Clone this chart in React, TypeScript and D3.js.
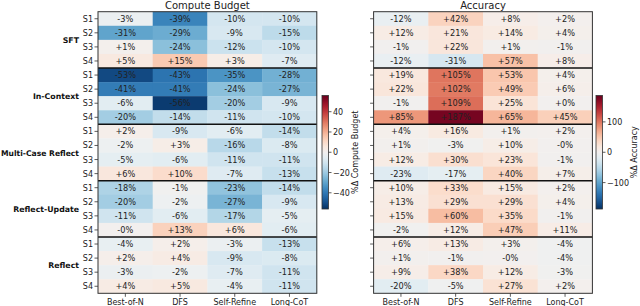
import React from "react";
import * as d3 from "d3";

const groups = ["SFT", "In-Context", "Multi-Case Reflect", "Reflect-Update", "Reflect"];
const settings = ["S1", "S2", "S3", "S4"];
const methods = ["Best-of-N", "DFS", "Self-Refine", "Long-CoT"];

// %Δ compute budget, rows = group x setting, cols = methods
const computeSFT = [[-3, -39, -10, -10], [-31, -29, -9, -15], [1, -24, -12, -10], [5, 15, 3, -7]];
const computeInContext = [[-53, -43, -35, -28], [-41, -41, -24, -27], [-6, -56, -20, -9], [-20, -14, -11, -10]];
const computeMultiCase = [[2, -9, -6, -14], [-2, 3, -16, -8], [-5, -6, -11, -11], [6, 10, -7, -13]];
const computeReflectUpdate = [[-18, -1, -23, -14], [-20, -2, -27, -9], [-11, -6, -17, -5], [-0, 13, 6, -6]];
const computeReflect = [[-4, 2, -3, -13], [2, 4, -9, -8], [-3, -2, -7, -11], [4, 5, -4, -11]];

// %Δ accuracy
const accSFT = [[-12, 42, 8, 2], [12, 21, 14, 4], [-1, 22, 1, -1], [-12, -31, 57, 8]];
const accInContext = [[19, 105, 53, 4], [22, 102, 49, 6], [-1, 109, 25, 0], [85, 187, 65, 45]];
const accMultiCase = [[4, 16, 1, 2], [1, -3, 10, -0], [12, 30, 23, -1], [-23, -17, 40, 7]];
const accReflectUpdate = [[10, 33, 15, 2], [13, 29, 29, 4], [15, 60, 35, -1], [-2, 12, 47, 11]];
const accReflect = [[6, 13, 3, -4], [1, -1, -0, -4], [9, 38, 12, -3], [-20, -5, 27, 2]];

const computeData = [computeSFT, computeInContext, computeMultiCase, computeReflectUpdate, computeReflect];
const accData = [accSFT, accInContext, accMultiCase, accReflectUpdate, accReflect];

const W = 640;
const H = 306;
const FONT = "DejaVu Sans, sans-serif";
const top = 11.7;
const bottom = 293.3;
const hmWidth = 218.8;

const rowKeys = groups.flatMap((g) => settings.map((s) => `${g}|${s}`));

const fmt = (v: number) => `${v < 0 || Object.is(v, -0) ? "-" : "+"}${Math.abs(v)}%`;

const Heatmap: React.FC<{
  data: number[][][];
  x0: number;
  title: string;
  showLabels: boolean;
  maxAbs: number;
}> = ({ data, x0, title, showLabels, maxAbs }) => {
  const x = d3.scaleBand().domain(methods).range([x0, x0 + hmWidth]);
  const y = d3.scaleBand().domain(rowKeys).range([top, bottom]);
  const color = (v: number) => d3.interpolateRdBu(0.5 - (v / (2 * maxAbs)) * 0.96);
  const cells = data.flatMap((grp, gi) =>
    grp.flatMap((row, si) =>
      row.map((v, mi) => ({ v, key: `${groups[gi]}|${settings[si]}`, m: methods[mi] }))
    )
  );
  return (
    <g>
      <text x={x0 + hmWidth / 2} y={8.5} textAnchor="middle" fontSize={10} fontFamily={FONT} fill="#222">
        {title}
      </text>
      {cells.map((c, i) => (
        <g key={i}>
          <rect x={x(c.m)!} y={y(c.key)!} width={x.bandwidth() + 0.3} height={y.bandwidth() + 0.3} fill={color(c.v)} />
          <text
            x={x(c.m)! + x.bandwidth() / 2}
            y={y(c.key)! + y.bandwidth() / 2 + 3}
            textAnchor="middle"
            fontSize={8.2}
            fontFamily={FONT}
            fill="#222"
          >
            {fmt(c.v)}
          </text>
        </g>
      ))}
      {groups.slice(1).map((g) => (
        <line key={g} x1={x0} x2={x0 + hmWidth} y1={y(`${g}|S1`)!} y2={y(`${g}|S1`)!} stroke="#111" strokeWidth={1.5} />
      ))}
      <rect x={x0} y={top} width={hmWidth} height={bottom - top} fill="none" stroke="#333" strokeWidth={1} />
      {rowKeys.map((k) => (
        <g key={k}>
          <line x1={x0 - 3.5} x2={x0} y1={y(k)! + y.bandwidth() / 2} y2={y(k)! + y.bandwidth() / 2} stroke="#333" strokeWidth={0.8} />
          {showLabels && (
            <text x={x0 - 5} y={y(k)! + y.bandwidth() / 2 + 3} textAnchor="end" fontSize={8} fontFamily={FONT} fill="#222">
              {k.split("|")[1]}
            </text>
          )}
        </g>
      ))}
      {showLabels &&
        groups.map((g) => (
          <text
            key={g}
            x={x0 - 19}
            y={y(`${g}|S3`)! + 3}
            textAnchor="end"
            fontSize={7.8}
            fontWeight="bold"
            fontFamily={FONT}
            fill="#111"
            {...(g.length > 14 ? { textLength: 78, lengthAdjust: "spacingAndGlyphs" } : {})}
          >
            {g}
          </text>
        ))}
      {methods.map((m) => (
        <g key={m}>
          <line x1={x(m)! + x.bandwidth() / 2} x2={x(m)! + x.bandwidth() / 2} y1={bottom} y2={bottom + 3.5} stroke="#333" strokeWidth={0.8} />
          <text x={x(m)! + x.bandwidth() / 2} y={bottom + 11.5} textAnchor="middle" fontSize={8} fontFamily={FONT} fill="#222">
            {m}
          </text>
        </g>
      ))}
    </g>
  );
};

const Colorbar: React.FC<{ x0: number; maxAbs: number; label: string; id: string; labelX: number }> = ({
  x0,
  maxAbs,
  label,
  id,
  labelX,
}) => {
  const cbTop = 95.5;
  const cbBottom = 209;
  const w = 6.5;
  const s = d3.scaleLinear().domain([-maxAbs, maxAbs]).range([cbBottom, cbTop]);
  const stops = d3.range(0, 1.0001, 0.05);
  return (
    <g>
      <defs>
        <linearGradient id={id} x1="0" x2="0" y1="1" y2="0">
          {stops.map((t) => (
            <stop key={t} offset={`${t * 100}%`} stopColor={d3.interpolateRdBu(1 - t)} />
          ))}
        </linearGradient>
      </defs>
      <rect x={x0} y={cbTop} width={w} height={cbBottom - cbTop} fill={`url(#${id})`} stroke="#333" strokeWidth={0.8} />
      {s.ticks(5).map((t) => (
        <g key={t}>
          <line x1={x0 + w} x2={x0 + w + 3} y1={s(t)} y2={s(t)} stroke="#333" strokeWidth={0.8} />
          <text x={x0 + w + 4.5} y={s(t) + 3} fontSize={8} fontFamily={FONT} fill="#222">
            {t < 0 ? `\u2212${Math.abs(t)}` : `${t}`}
          </text>
        </g>
      ))}
      <text
        transform={`translate(${labelX},${(cbTop + cbBottom) / 2}) rotate(-90)`}
        textAnchor="middle"
        fontSize={8}
        fontFamily={FONT}
        fill="#222"
      >
        {label}
      </text>
    </g>
  );
};

const maxAbsOf = (d: number[][][]) => d3.max(d.flat(2), (v) => Math.abs(v)) ?? 1;

export default function App() {
  const computeMax = maxAbsOf(computeData);
  const accMax = maxAbsOf(accData);
  return (
    <svg
      width={W}
      height={H}
      viewBox={`0 0 ${W} ${H}`}
      style={{ position: "absolute", left: 0, top: 0, background: "#fff" }}
    >
      <rect width={W} height={H} fill="#fff" />
      <Heatmap data={computeData} x0={98} title="Compute Budget" showLabels={true} maxAbs={computeMax} />
      <Colorbar x0={322} maxAbs={computeMax} label="%Δ Compute Budget" id="cb1" labelX={358} />
      <Heatmap data={accData} x0={373.6} title="Accuracy" showLabels={false} maxAbs={accMax} />
      <Colorbar x0={596} maxAbs={accMax} label="%Δ Accuracy" id="cb2" labelX={637} />
    </svg>
  );
}
